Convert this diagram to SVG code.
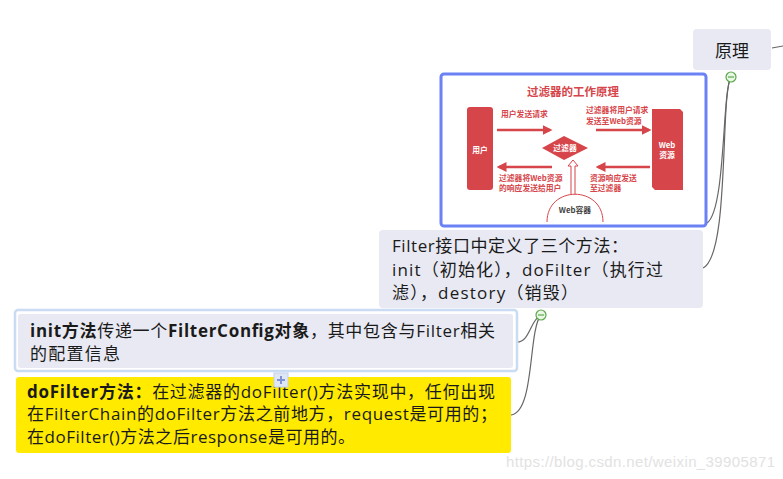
<svg xmlns="http://www.w3.org/2000/svg" width="783" height="479" viewBox="0 0 783 479">
<defs>
<style>
.t{font-family:"Open Sans","Noto Sans CJK SC",sans-serif;font-size:17px;fill:#1a1a1a}
.b{font-weight:bold}
.node{fill:#e8e9f2}
.conn{fill:none;stroke:#666;stroke-width:1.2}
.tog{fill:#eaf7e6;stroke:#5aa84a;stroke-width:1.2}
.img{font-family:"Noto Sans CJK SC",sans-serif;font-size:7.8px;fill:#d6454a;font-weight:bold}
.red{fill:#d6454a}
.ar{stroke:#d6454a;stroke-width:2.5;fill:none}
</style>
<marker id="ah" markerWidth="4" markerHeight="4" refX="3" refY="2" orient="auto" markerUnits="strokeWidth"><path d="M0,0 L4,2 L0,4 Z" fill="#d6454a"/></marker>
</defs>
<rect width="783" height="479" fill="#fff"/>

<g id="connectors">
<path class="conn" d="M772,48 L783,46"/>
<path class="conn" d="M731,77 C722,90 726,210 707,223 L446,223"/>
<path class="conn" d="M731,77 C720,95 730,255 703,268"/>
<path class="conn" d="M541,315 C530,320 530,342 517,342"/>
<path class="conn" d="M541,315 C528,330 535,412 511,415"/>
</g>

<g id="node-yuanli">
<rect class="node" x="693" y="29" width="78" height="41" rx="4"/>
<text class="t" x="732" y="57" text-anchor="middle">原理</text>
</g>

<g id="node-image">
<rect x="441" y="74" width="265" height="152" rx="3" fill="#fff" stroke="#6b82f5" stroke-width="3"/>
<text class="img" x="573" y="96" text-anchor="middle" style="font-size:11.5px">过滤器的工作原理</text>
<rect class="red" x="467" y="107" width="26" height="83" rx="3"/>
<text class="img" x="480" y="153" text-anchor="middle" style="fill:#fff">用户</text>
<path class="red" d="M652,109 L680,109 L683,112 L683,190 L655,190 L652,187 Z"/>
<text class="img" x="667" y="148" text-anchor="middle" style="fill:#fff">Web</text>
<text class="img" x="667" y="158" text-anchor="middle" style="fill:#fff">资源</text>
<text class="img" x="501" y="117">用户发送请求</text>
<text class="img" x="586" y="113">过滤器将用户请求</text>
<text class="img" x="586" y="123.5">发送至Web资源</text>
<line class="ar" x1="497" y1="130" x2="550" y2="130" marker-end="url(#ah)"/>
<line class="ar" x1="596" y1="130" x2="649" y2="130" marker-end="url(#ah)"/>
<line class="ar" x1="552" y1="167" x2="499" y2="167" marker-end="url(#ah)"/>
<line class="ar" x1="650" y1="167" x2="598" y2="167" marker-end="url(#ah)"/>
<path class="red" d="M542,148 L564,136 L588,148 L564,160 Z"/>
<text class="img" x="565" y="151" text-anchor="middle" style="fill:#fff">过滤器</text>
<text class="img" x="499" y="180.5">过滤器将Web资源</text>
<text class="img" x="499" y="191">的响应发送给用户</text>
<text class="img" x="590" y="180.5">资源响应发送</text>
<text class="img" x="590" y="191">至过滤器</text>
<path d="M571,194 L571,166 L568,166 L573,160 L578,166 L575,166 L575,194" fill="#fff" stroke="#d6454a" stroke-width="1"/>
<path d="M547,222 C547,185 603,185 603,222" fill="#fff" stroke="#d6454a" stroke-width="1"/>
<text class="img" x="575" y="213" text-anchor="middle" style="fill:#444">Web容器</text>
</g>

<g id="node-filter">
<rect class="node" x="379" y="230" width="324" height="78" rx="4"/>
<text class="t" x="392" y="252" textLength="236" lengthAdjust="spacing">Filter接口中定义了三个方法：</text>
<text class="t" x="392" y="276" textLength="271" lengthAdjust="spacing">init（初始化），doFilter（执行过</text>
<text class="t" x="392" y="299" textLength="186" lengthAdjust="spacing">滤），destory（销毁）</text>
</g>

<g id="node-init">
<rect x="15" y="310" width="502" height="61" rx="3" fill="#fff" stroke="#c9dcf3" stroke-width="2.5"/>
<rect class="node" x="18" y="314" width="495" height="54" rx="3"/>
<text class="t" x="30" y="337" textLength="465" lengthAdjust="spacing"><tspan class="b">init方法</tspan>传递一个<tspan class="b">FilterConfig对象</tspan>，其中包含与Filter相关</text>
<text class="t" x="30" y="360" textLength="90" lengthAdjust="spacing">的配置信息</text>
</g>

<g id="node-dofilter">
<rect x="16" y="377" width="495" height="76" rx="3" fill="#ffea00"/>
<text class="t" x="27" y="398" textLength="468" lengthAdjust="spacing"><tspan class="b">doFilter方法：</tspan>在过滤器的doFilter()方法实现中，任何出现</text>
<text class="t" x="27" y="420" textLength="470" lengthAdjust="spacing">在FilterChain的doFilter方法之前地方，request是可用的；</text>
<text class="t" x="27" y="443" textLength="328" lengthAdjust="spacing">在doFilter()方法之后response是可用的。</text>
</g>

<g id="toggles">
<circle class="tog" cx="731" cy="77" r="5"/>
<line x1="728" y1="77" x2="734" y2="77" stroke="#5aa84a" stroke-width="1.2"/>
<circle class="tog" cx="541" cy="315" r="5"/>
<line x1="538" y1="315" x2="544" y2="315" stroke="#5aa84a" stroke-width="1.2"/>
<rect x="274" y="373" width="14" height="14" fill="#dfe7f5" stroke="#c5d2ea" stroke-width="1"/>
<path d="M281,376 V384 M277,380 H285" stroke="#7f93d6" stroke-width="2"/>
</g>

<text x="506" y="467" font-family="Liberation Sans,Arial,sans-serif" font-size="15" textLength="269" fill="#e2e2e2">https://blog.csdn.net/weixin_39905871</text>
</svg>
